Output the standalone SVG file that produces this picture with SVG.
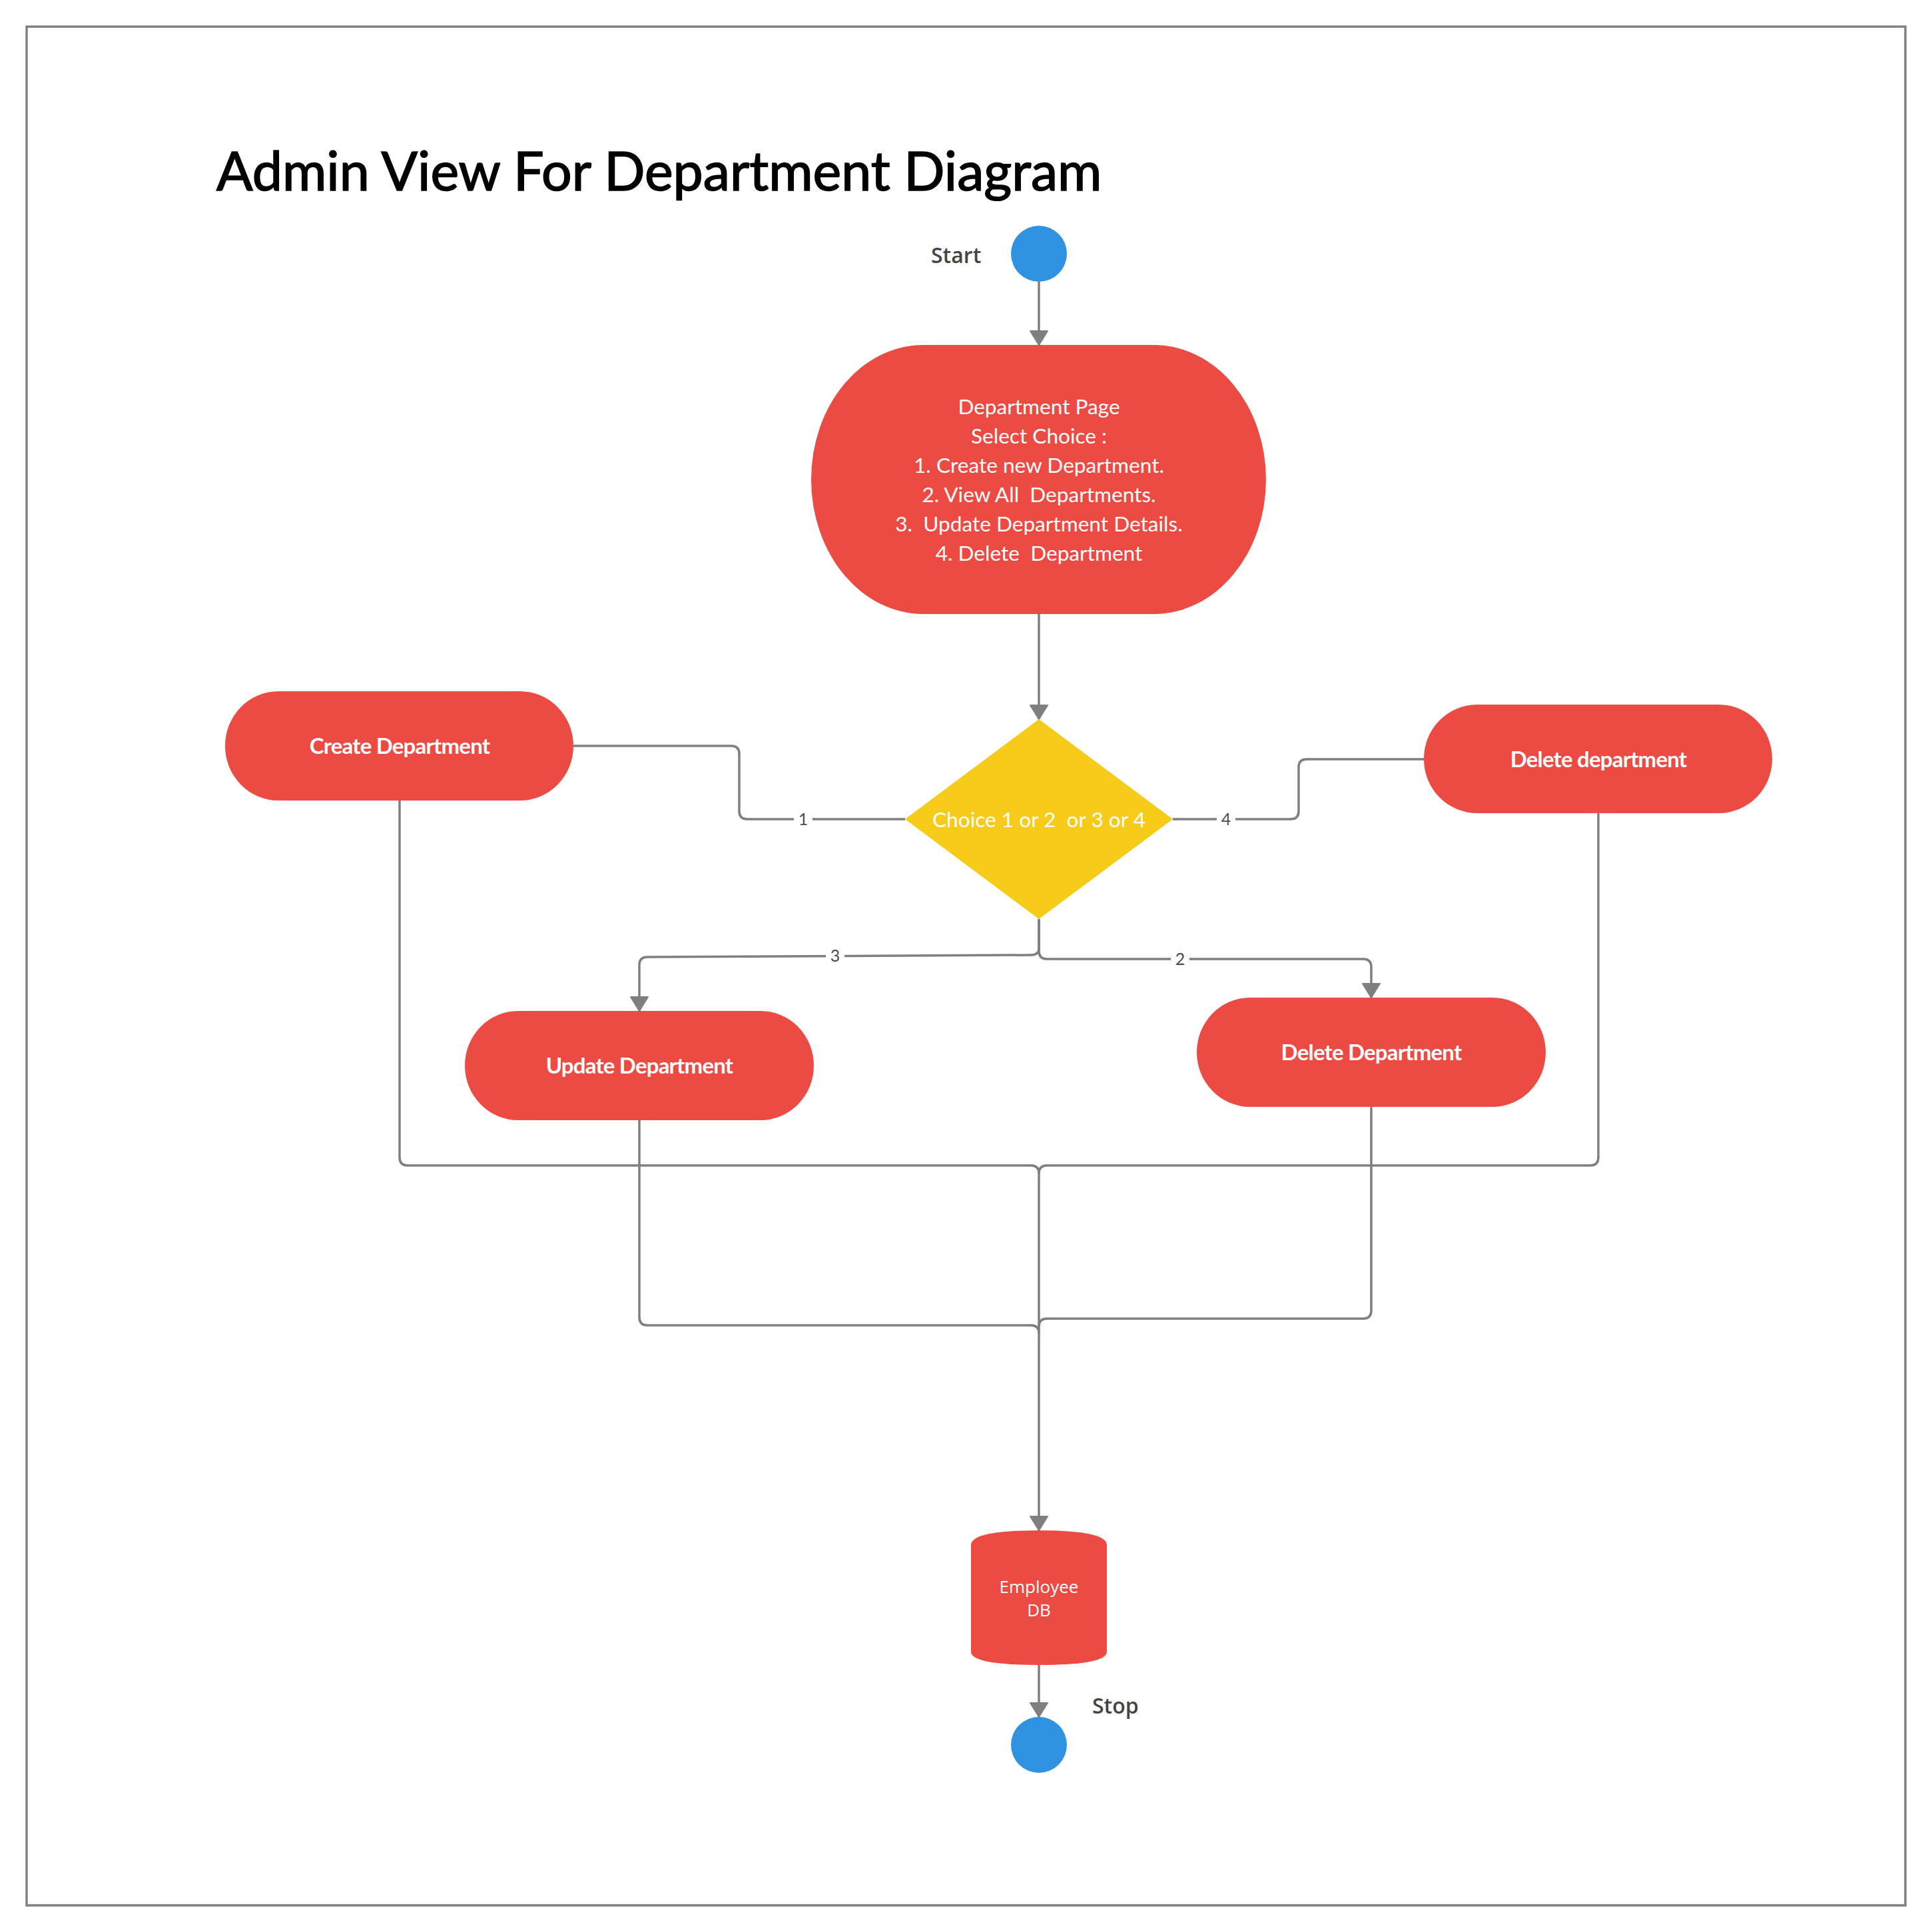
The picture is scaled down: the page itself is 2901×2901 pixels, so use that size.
<svg xmlns="http://www.w3.org/2000/svg" width="2901" height="2901" viewBox="0 0 2901 2901">
<style>
.node{fill:#EC4B44}
.conn{fill:none;stroke:#7f7f7f;stroke-width:3.5;stroke-linejoin:round}
.lbl{font-family:Lato,"Liberation Sans",sans-serif;font-size:31.6px;fill:#ffffff;text-anchor:middle;white-space:pre}
.blbl{font-family:Lato,"Liberation Sans",sans-serif;font-size:33px;font-weight:bold;fill:#ffffff;text-anchor:middle;letter-spacing:-0.8px}
.side{font-family:"Open Sans","Noto Sans",sans-serif;font-size:32px;font-weight:600;fill:#444444}
.num{font-family:Lato,"Liberation Sans",sans-serif;font-size:25px;fill:#4d4d4d;text-anchor:middle}
</style>
<defs>
<marker id="arr" markerUnits="userSpaceOnUse" markerWidth="24" markerHeight="30" viewBox="0 0 24 30" refX="22" refY="15" orient="auto">
<path d="M1,2 L22,15 L1,28 Z" fill="#7f7f7f" stroke="#7f7f7f" stroke-width="2" stroke-linejoin="round"/>
</marker>
</defs>
<rect x="0" y="0" width="2901" height="2901" fill="#ffffff"/>
<rect x="40" y="40" width="2821" height="2821" fill="none" stroke="#7f7f7f" stroke-width="3.5"/>
<text x="325" y="286" font-family="Lato,'Liberation Sans',sans-serif" font-size="80.7" fill="#000000" stroke="#000000" stroke-width="1.6">Admin View For Department Diagram</text>

<g id="connectors">
<path class="conn" d="M1560,423 V518" marker-end="url(#arr)"/>
<path class="conn" d="M1560,922 V1080" marker-end="url(#arr)"/>
<path class="conn" d="M861,1120 H1098 Q1110,1120 1110,1132 V1218 Q1110,1230 1122,1230 H1359"/>
<path class="conn" d="M1761,1230 H1938 Q1950,1230 1950,1218 V1152 Q1950,1140 1962,1140 H2138"/>
<path class="conn" d="M1560,1380 V1424 Q1560,1434 1548,1434 L972,1437 Q960,1437 960,1449 V1518" marker-end="url(#arr)"/>
<path class="conn" d="M1560,1380 V1428 Q1560,1440 1572,1440 H2047 Q2059,1440 2059,1452 V1498" marker-end="url(#arr)"/>
<path class="conn" d="M600,1202 V1738 Q600,1750 612,1750 H1548 Q1560,1750 1560,1762 V2298" marker-end="url(#arr)"/>
<path class="conn" d="M2400,1221 V1738 Q2400,1750 2388,1750 H1572 Q1560,1750 1560,1762"/>
<path class="conn" d="M960,1682 V1978 Q960,1990 972,1990 H1548 Q1560,1990 1560,2002"/>
<path class="conn" d="M2059,1662 V1968 Q2059,1980 2047,1980 H1572 Q1560,1980 1560,1992"/>
<path class="conn" d="M1560,2500 V2578" marker-end="url(#arr)"/>
<rect x="1192" y="1214" width="28" height="32" fill="#ffffff"/>
<text class="num" x="1206" y="1239">1</text>
<rect x="1827" y="1214" width="28" height="32" fill="#ffffff"/>
<text class="num" x="1841" y="1239">4</text>
<rect x="1240" y="1419" width="28" height="32" fill="#ffffff"/>
<text class="num" x="1254" y="1444">3</text>
<rect x="1758" y="1424" width="28" height="32" fill="#ffffff"/>
<text class="num" x="1772" y="1449">2</text>
</g>

<g id="start">
<circle cx="1560" cy="381" r="42" fill="#2F93E1"/>
<text class="side" x="1398" y="395">Start</text>
</g>

<g id="department-page">
<rect class="node" x="1218" y="518" width="683" height="404" rx="168" ry="202"/>
<text class="lbl" x="1560" y="622">Department Page</text>
<text class="lbl" x="1560" y="666">Select Choice :</text>
<text class="lbl" x="1560" y="710">1. Create new Department.</text>
<text class="lbl" x="1560" y="754">2. View All  Departments.</text>
<text class="lbl" x="1560" y="798">3.  Update Department Details.</text>
<text class="lbl" x="1560" y="842">4. Delete  Department</text>
</g>

<g id="decision">
<polygon points="1560,1080 1761,1230 1560,1380 1359,1230" fill="#F6CB19"/>
<text class="lbl" x="1560" y="1242">Choice 1 or 2  or 3 or 4</text>
</g>

<g id="create-department">
<rect class="node" x="338" y="1038" width="523" height="164" rx="80" ry="82"/>
<text class="blbl" x="600" y="1132">Create Department</text>
</g>

<g id="delete-department-top">
<rect class="node" x="2138" y="1058" width="523" height="163" rx="80" ry="81"/>
<text class="blbl" x="2400" y="1152">Delete department</text>
</g>

<g id="update-department">
<rect class="node" x="698" y="1518" width="524" height="164" rx="80" ry="82"/>
<text class="blbl" x="960" y="1612">Update Department</text>
</g>

<g id="delete-department">
<rect class="node" x="1797" y="1498" width="524" height="164" rx="80" ry="82"/>
<text class="blbl" x="2059" y="1592">Delete Department</text>
</g>

<g id="employee-db">
<path class="node" d="M1458,2320 Q1458,2298 1560,2298 Q1662,2298 1662,2320 V2480 Q1662,2500 1560,2500 Q1458,2500 1458,2480 Z"/>
<text x="1560" y="2392" font-family="'Open Sans','Noto Sans',sans-serif" font-size="26" fill="#ffffff" text-anchor="middle">Employee</text>
<text x="1560" y="2427" font-family="'Open Sans','Noto Sans',sans-serif" font-size="26" fill="#ffffff" text-anchor="middle">DB</text>
</g>

<g id="stop">
<circle cx="1560" cy="2620" r="42" fill="#2F93E1"/>
<text class="side" x="1640" y="2573">Stop</text>
</g>
</svg>
